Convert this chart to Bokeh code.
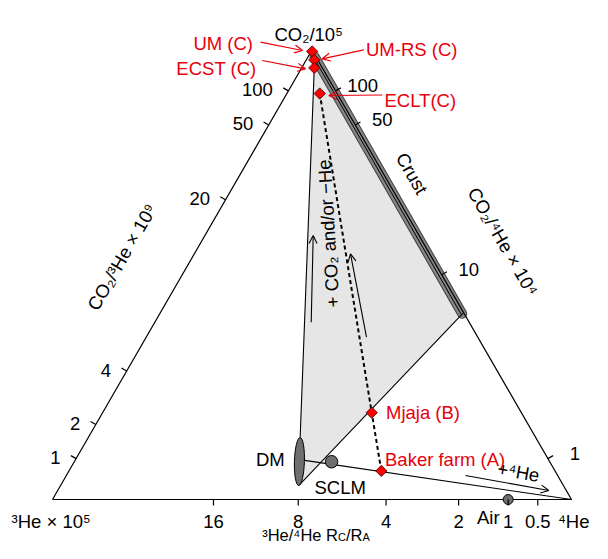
import numpy as np
from bokeh.plotting import figure
from bokeh.models import Range1d, Arrow, OpenHead
from bokeh.core.properties import value
from bokeh.embed import file_html
from bokeh.resources import INLINE

# ---------------- data ----------------
RA_X1E5 = 0.139                                  # air 3He/4He (1.39e-6) x 1e5
bottom_ticks = [16, 8, 4, 2, 1, 0.5]             # 3He/4He  Rc/Ra
left_ticks = [1, 2, 4, 20, 50, 100]              # CO2/3He x 1e9
right_ticks = [1, 10, 50, 100]                   # CO2/4He x 1e4

sample_names = ["UM (C)", "UM-RS (C)", "ECST (C)", "ECLT(C)", "Mjaja (B)", "Baker farm (A)"]
sample_rc_ra = [5.0, 3.1, 4.6, 3.8, 4.0, 4.0]
sample_co2_3he = [8000, 1480, 620, 270, 6.7, 1.9]     # x 1e9

dm_rc_ra = 8.0
dm_co2_3he = [0.61, 3.04]        # DM field (ellipse)
dm_mix_co2_3he = 1.85            # DM -> 4He mixing line
sclm_rc_ra, sclm_co2_3he = 6.1, 2.0
air_rc_ra = 1.0
crust_rc_ra = 0.02
crust_co2_4he = [750, 7.1]       # x 1e4

# ---------------- helpers ----------------
H = np.sqrt(3) / 2
PPU = 519.0
FONT = "Liberation Sans"
RED = "#e8000b"
FS = "18.5px"
W, HGT = 592, 543


def tern(a, b, c):
    a = np.asarray(a, float); b = np.asarray(b, float); c = np.asarray(c, float)
    s = a + b + c
    return (b + 0.5 * c) / s, H * c / s


def from_r_x(r, x):
    r = np.asarray(r, float); x = np.asarray(x, float)
    a = RA_X1E5 * r
    return tern(a, np.ones_like(a * x), a * x / 10.0)


def from_r_y(r, y):
    r = np.asarray(r, float); y = np.asarray(y, float)
    a = RA_X1E5 * r * np.ones_like(y)
    return tern(a, np.ones_like(a), y / 10.0 * np.ones_like(a))


def S(px, py):
    return (px - 52.0) / PPU, (499.0 - py) / PPU


p = figure(width=W, height=HGT, output_backend="svg", toolbar_location=None,
           x_axis_type=None, y_axis_type=None,
           x_range=Range1d(S(0, 0)[0], S(W, 0)[0]),
           y_range=Range1d(S(0, HGT)[1], S(0, 0)[1]),
           min_border=0, background_fill_color="white", border_fill_color="white")
p.grid.visible = False
p.outline_line_color = None


def txt(px, py, s, size=FS, color="black", align="left", baseline="alphabetic", angle=0.0):
    x, y = S(px, py)
    p.text(x=[x], y=[y], text=[s], text_font=value(FONT), text_font_size=size,
           text_color=color, text_align=align, text_baseline=baseline, angle=angle)


# ---------------- geometry from data ----------------
tri_x, tri_y = tern([1, 0, 0, 1], [0, 1, 0, 0], [0, 0, 1, 0])
smp_x, smp_y = from_r_x(sample_rc_ra, sample_co2_3he)
dm_x, dm_y = from_r_x([dm_rc_ra, dm_rc_ra], dm_co2_3he)
cr_x, cr_y = from_r_y(crust_rc_ra, crust_co2_4he)
mix_x, mix_y = from_r_x([dm_rc_ra, 0.0], dm_mix_co2_3he)
sc_x, sc_y = from_r_x([sclm_rc_ra], [sclm_co2_3he])
air_x, air_y = from_r_y([air_rc_ra], [0.0])

# shaded field
poly_x = [smp_x[2], cr_x[0], cr_x[1], dm_x[0], dm_x[1]]
poly_y = [smp_y[2], cr_y[0], cr_y[1], dm_y[0], dm_y[1]]
p.patch(poly_x, poly_y, fill_color="#e6e6e6", line_color=None)

# crust band
nin = np.array([-H, -0.5]) / PPU
bx = np.array(cr_x) + nin[0] * 1.0
by = np.array(cr_y) + nin[1] * 1.0
p.line(bx, by, line_width=10, line_color="#404040", line_cap="round")
p.line(bx, by, line_width=8, line_color="#858585", line_cap="round")
p.line(np.array(cr_x) + nin[0] * 2.2, np.array(cr_y) + nin[1] * 2.2, line_width=1.0, line_color="black")

# triangle
p.line(tri_x, tri_y, line_color="black", line_width=1.2)

# field edges
p.line([smp_x[2], dm_x[1]], [smp_y[2], dm_y[1]], line_color="black", line_width=1.1)
p.line([cr_x[1], dm_x[0]], [cr_y[1], dm_y[0]], line_color="black", line_width=1.1)

# DM -> 4He mixing line
p.line(mix_x, mix_y, line_color="black", line_width=1.1)

# dashed +CO2 line
p.line(smp_x[3:], smp_y[3:], line_color="black", line_width=2, line_dash="4 3")

# DM ellipse
cx, cy = (dm_x[0] + dm_x[1]) / 2, (dm_y[0] + dm_y[1]) / 2
ln = np.hypot(dm_x[1] - dm_x[0], dm_y[1] - dm_y[0])
ang = np.arctan2(dm_y[1] - dm_y[0], dm_x[1] - dm_x[0]) - np.pi / 2
p.ellipse(x=[cx], y=[cy], width=[10 / PPU], height=[ln], angle=ang,
          fill_color="#6e6e6e", line_color="black", line_width=1)

# SCLM, Air
p.scatter(sc_x, sc_y, marker="circle", size=12.5, fill_color="#6e6e6e", line_color="black", line_width=1)
p.scatter(air_x, air_y, marker="circle", size=10, fill_color="#6e6e6e", line_color="black", line_width=1)

# ticks
TL = 6 / PPU
bt_x, bt_y = from_r_y(bottom_ticks, np.zeros(len(bottom_ticks)))
p.segment(bt_x, bt_y, bt_x, bt_y - TL, line_color="black", line_width=1.2)
lt_x, lt_y = tern(np.ones(len(left_ticks)), np.zeros(len(left_ticks)), np.array(left_ticks) / 10.0)
p.segment(lt_x, lt_y, lt_x - H * TL, lt_y + 0.5 * TL, line_color="black", line_width=1.2)
rt_x, rt_y = tern(np.zeros(len(right_ticks)), np.ones(len(right_ticks)), np.array(right_ticks) / 10.0)
p.segment(rt_x, rt_y, rt_x + H * TL, rt_y + 0.5 * TL, line_color="black", line_width=1.2)

# tick labels
BOT_BASE = 521.0
p.text(x=bt_x, y=bt_y - (BOT_BASE - 499) / PPU, text=[f"{v:g}" for v in bottom_ticks], text_font=value(FONT),
       text_font_size=FS, text_align="center", text_baseline="alphabetic", text_color="black")
p.text(x=lt_x - 15.5 / PPU, y=lt_y + 1 / PPU, text=[f"{v:g}" for v in left_ticks], text_font=value(FONT),
       text_font_size=FS, text_align="right", text_baseline="alphabetic", text_color="black")
p.text(x=rt_x + 27 / PPU, y=rt_y + 5.4 / PPU, text=[f"{v:g}" for v in right_ticks], text_font=value(FONT),
       text_font_size=FS, text_align="center", text_baseline="alphabetic", text_color="black")

# sample markers
p.scatter(smp_x, smp_y, marker="square", angle=np.pi / 4, size=8, fill_color="#ff0000",
          line_color="#330000", line_width=0.8)

# red label arrows
for (x0, y0, x1, y1) in [(260, 41.7, 302, 50), (261.7, 60, 305, 68.3),
                         (363.3, 49.3, 321.7, 58.3), (381.7, 94.5, 328.3, 95)]:
    a0 = S(x0, y0); a1 = S(x1, y1)
    p.add_layout(Arrow(x_start=a0[0], y_start=a0[1], x_end=a1[0], y_end=a1[1],
                       line_color=RED, line_width=1.2,
                       end=OpenHead(size=8, line_color=RED, line_width=1.2)))

# black arrows
for (x0, y0, x1, y1) in [(310.7, 321.7, 312.7, 235), (366, 336.7, 350, 253.3), (465, 475, 548.3, 490)]:
    a0 = S(x0, y0); a1 = S(x1, y1)
    p.add_layout(Arrow(x_start=a0[0], y_start=a0[1], x_end=a1[0], y_end=a1[1],
                       line_color="black", line_width=1.1,
                       end=OpenHead(size=8, line_color="black", line_width=1.1)))

# sample labels
txt(252.5, 42.7, sample_names[0], color=RED, align="right")
txt(365.5, 49.3, sample_names[1], color=RED)
txt(256, 67.7, sample_names[2], color=RED, align="right")
txt(384, 100, sample_names[3], color=RED)
txt(385.5, 411.7, sample_names[4], color=RED)
txt(384.5, 459.3, sample_names[5], color=RED)

# end-member labels
txt(255.5, 459, "DM")
txt(314, 487.3, "SCLM")
txt(476.5, 517, "Air")
txt(411.5, 173, "Crust", align="center", baseline="middle", angle=-np.pi / 3)

# axis / vertex labels
txt(274, 33.5, "CO₂/10⁵")
txt(11, BOT_BASE, "³He × 10⁵")
txt(589, BOT_BASE, "⁴He", align="right")
txt(121.5, 256.5, "CO₂/³He × 10⁹", align="center", baseline="middle", angle=np.pi / 3)
txt(502.5, 241, "CO₂/⁴He × 10⁴", align="center", baseline="middle", angle=-np.pi / 3)
txt(328, 233, "+ CO₂ and/or −He", align="center", baseline="middle", angle=np.deg2rad(93.5))
txt(518, 471.5, "+⁴He", align="center", baseline="middle", angle=np.deg2rad(-10))

# bottom title with subscripts
X0 = 337.5
TS = "16.5px"
txt(X0, 534, "³He/⁴He R", size=TS, align="right")
txt(X0, 536.5, "C", size="11px")
txt(X0 + 8.0, 534, "/R", size=TS)
txt(X0 + 8.0 + 16.5, 536.5, "A", size="11px")

open("out.html", "w").write(file_html(p, INLINE))
